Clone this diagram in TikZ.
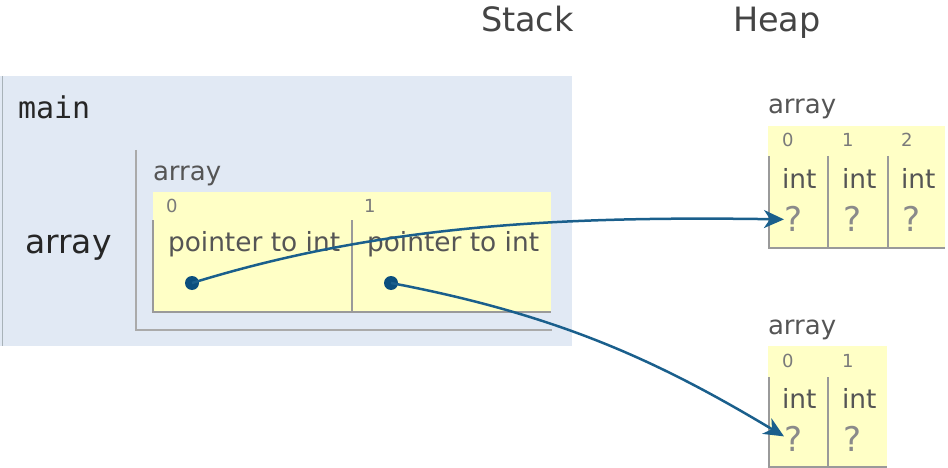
\documentclass[tikz,border=0pt]{standalone}
\usepackage{fontspec}
\setmainfont{DejaVu Sans}
\newfontfamily\codefont{DejaVu Sans Mono}
\usetikzlibrary{arrows.meta}

\definecolor{framebg}{HTML}{E1E9F4}
\definecolor{framerule}{HTML}{A8B2B8}
\definecolor{cellbg}{HTML}{FFFFC6}
\definecolor{cellrule}{HTML}{9A9A9A}
\definecolor{boxrule}{HTML}{AAAAAA}
\definecolor{ptrblue}{HTML}{1A5F8C}
\definecolor{dotblue}{HTML}{0B4F7E}
\definecolor{headtxt}{HTML}{444444}
\definecolor{valtxt}{HTML}{555555}
\definecolor{idxtxt}{HTML}{7A7A7A}
\definecolor{qtxt}{HTML}{8A8A8A}

\tikzset{
  txt/.style={anchor=base west, inner sep=0pt, outer sep=0pt},
  heading/.style={txt, text=headtxt, font=\fontsize{33.5}{38}\selectfont},
  varname/.style={txt, text=black!85, font=\fontsize{33}{38}\selectfont},
  tag/.style={txt, text=valtxt, font=\fontsize{26}{30}\selectfont},
  idx/.style={txt, text=idxtxt, font=\fontsize{18}{21}\selectfont},
  val/.style={txt, text=valtxt, font=\fontsize{26.4}{31}\selectfont},
  qmark/.style={txt, text=qtxt, font=\fontsize{34}{38}\selectfont},
  ptrdot/.style={circle, fill=dotblue, inner sep=0pt, minimum size=14pt},
  cellline/.style={draw=cellrule, line width=1.6pt},
  boxline/.style={draw=boxrule, line width=1.6pt},
  ptr/.style={draw=ptrblue, line width=2.5pt,
    -{Stealth[length=20pt, width=18pt, inset=6pt]}},
}

\begin{document}
\begin{tikzpicture}[x=1pt, y=-1pt]
  \useasboundingbox (0,0) rectangle (948,468);
  \clip (0,0) rectangle (948,468);

  % column headings
  \node[heading] (stackhd) at (481,32) {Stack};
  \node[heading] (heaphd) at (733,32) {Heap};

  % stack frame of main
  \fill[framebg] (0,76) rectangle (572,346);
  \draw[draw=framerule, line width=1.6pt] (2.5,76) -- (2.5,346);
  \node[txt, text=black!85, font=\codefont\fontsize{30}{35}\selectfont] (mainlbl) at (18,119) {main};
  \node[varname] (arrvar) at (25,253) {array};

  % array object held in the frame
  \draw[boxline] (136,150) -- (136,330) -- (552,330);
  \node[tag] (stktag) at (153,180) {array};
  \fill[cellbg] (153,192) rectangle (551,312);
  \draw[cellline] (153,220) -- (153,312) -- (551,312);
  \draw[cellline] (352,220) -- (352,312);
  \node[idx] (si0) at (166,212) {0};
  \node[idx] (si1) at (364,212) {1};
  \node[val] (sv0) at (168,251) {pointer to int};
  \node[val] (sv1) at (367,251) {pointer to int};
  \node[ptrdot] (d0) at (192,283) {};
  \node[ptrdot] (d1) at (391,283) {};

  % heap array with three ints
  \node[tag] (h1tag) at (768,114) {array};
  \fill[cellbg] (768,126) rectangle (945,248);
  \draw[cellline] (769,156) -- (769,248) -- (945,248);
  \draw[cellline] (828,156) -- (828,248);
  \draw[cellline] (888,156) -- (888,248);
  \node[idx] (h1i0) at (782,147) {0};
  \node[idx] (h1i1) at (842,147) {1};
  \node[idx] (h1i2) at (901,147) {2};
  \node[val] (h1v0) at (782,188) {int};
  \node[val] (h1v1) at (842,188) {int};
  \node[val] (h1v2) at (901,188) {int};
  \node[qmark] (h1q0) at (784,231) {?};
  \node[qmark] (h1q1) at (843,231) {?};
  \node[qmark] (h1q2) at (902,231) {?};

  % heap array with two ints
  \node[tag] (h2tag) at (768,334) {array};
  \fill[cellbg] (768,346) rectangle (887,470);
  \draw[cellline] (769,377) -- (769,470);
  \draw[cellline] (828,377) -- (828,470);
  \draw[cellline] (768,467) -- (887,467);
  \node[idx] (h2i0) at (782,367) {0};
  \node[idx] (h2i1) at (842,367) {1};
  \node[val] (h2v0) at (782,408) {int};
  \node[val] (h2v1) at (842,408) {int};
  \node[qmark] (h2q0) at (784,451) {?};
  \node[qmark] (h2q1) at (843,451) {?};

  % pointers from the stack cells to the heap arrays
  \coordinate (t1) at ([yshift=-1pt]h1q0.west);
  \coordinate (t2) at ([yshift=2pt]h2q0.west);
  \draw[ptr] (d0.center) .. controls (380,225) and (560,216) .. (t1);
  \draw[ptr] (d1.center) .. controls (560,315) and (660,362) .. (t2);
\end{tikzpicture}
\end{document}
